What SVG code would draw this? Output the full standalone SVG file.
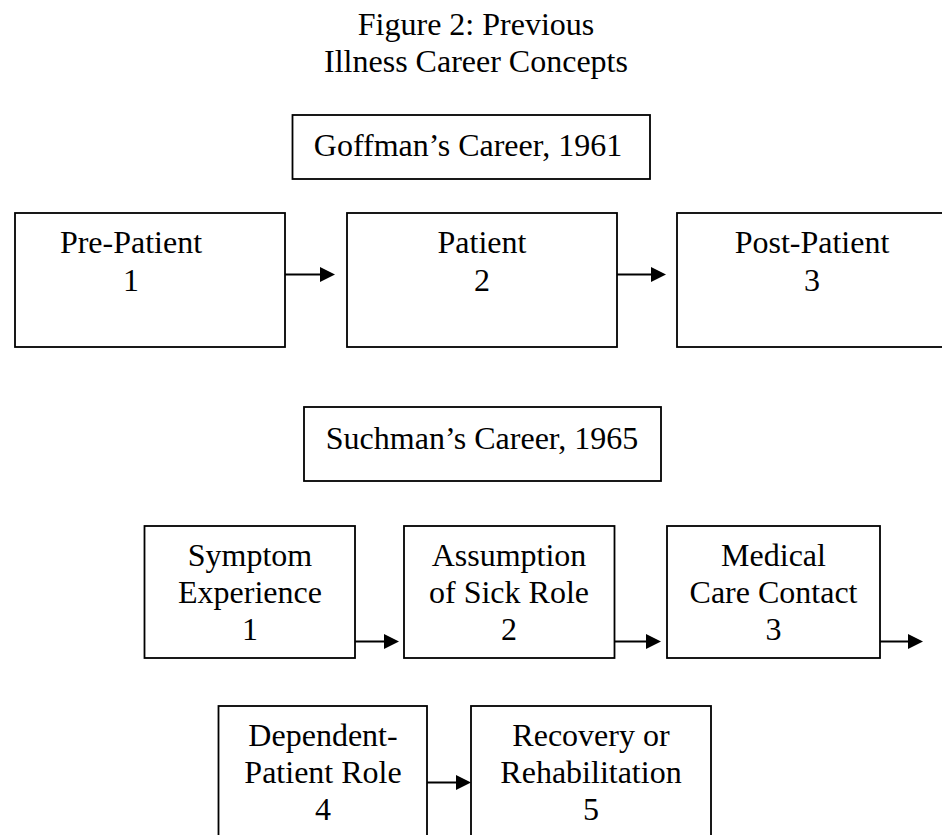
<svg xmlns="http://www.w3.org/2000/svg" width="942" height="835" viewBox="0 0 942 835">
<style>
text{font-family:"Liberation Serif","Times New Roman",serif;font-size:32px;fill:#000;text-anchor:middle}
.box{fill:#fff;stroke:#000;stroke-width:1.8}
.conn{stroke:#000;stroke-width:2;fill:none}
</style>
<defs>
<marker id="ah" markerUnits="userSpaceOnUse" markerWidth="15" markerHeight="15" refX="7" refY="7.5" orient="auto" viewBox="0 0 15 15">
<path d="M0,0 L15,7.5 L0,15 z" fill="#000"/>
</marker>
</defs>
<rect width="942" height="835" fill="#fff"/>
<g id="title">
<text x="476" y="35">Figure 2: Previous</text>
<text x="476" y="72">Illness Career Concepts</text>
</g>
<g id="goffman">
<rect class="box" x="292.5" y="115" width="357.5" height="64"/>
<text x="468" y="156">Goffman’s Career, 1961</text>
</g>
<g id="pre-patient">
<rect class="box" x="15" y="213" width="270" height="134"/>
<text x="131" y="253">Pre-Patient</text>
<text x="131" y="290.5">1</text>
</g>
<g id="patient">
<rect class="box" x="347" y="213" width="270" height="134"/>
<text x="482" y="253">Patient</text>
<text x="482" y="290.5">2</text>
</g>
<g id="post-patient">
<rect class="box" x="677" y="213" width="270" height="134"/>
<text x="812" y="253">Post-Patient</text>
<text x="812" y="290.5">3</text>
</g>
<g id="suchman">
<rect class="box" x="304" y="407" width="357" height="74"/>
<text x="482" y="449">Suchman’s Career, 1965</text>
</g>
<g id="symptom">
<rect class="box" x="144.5" y="526" width="210.5" height="132"/>
<text x="250" y="566">Symptom</text>
<text x="250" y="603">Experience</text>
<text x="250" y="640">1</text>
</g>
<g id="assumption">
<rect class="box" x="404" y="526" width="210.5" height="132"/>
<text x="509" y="566">Assumption</text>
<text x="509" y="603">of Sick Role</text>
<text x="509" y="640">2</text>
</g>
<g id="medical">
<rect class="box" x="667" y="526" width="213" height="132"/>
<text x="773.5" y="566">Medical</text>
<text x="773.5" y="603">Care Contact</text>
<text x="773.5" y="640">3</text>
</g>
<g id="dependent">
<rect class="box" x="218.5" y="706" width="208.5" height="150"/>
<text x="323" y="746">Dependent-</text>
<text x="323" y="783">Patient Role</text>
<text x="323" y="820">4</text>
</g>
<g id="recovery">
<rect class="box" x="471" y="706" width="240" height="150"/>
<text x="591" y="746">Recovery or</text>
<text x="591" y="783">Rehabilitation</text>
<text x="591" y="820">5</text>
</g>
<g id="connectors">
<line class="conn" x1="285" y1="274.5" x2="327" y2="274.5" marker-end="url(#ah)"/>
<line class="conn" x1="617" y1="274.5" x2="658" y2="274.5" marker-end="url(#ah)"/>
<line class="conn" x1="355" y1="641.5" x2="391" y2="641.5" marker-end="url(#ah)"/>
<line class="conn" x1="614.5" y1="641.5" x2="653" y2="641.5" marker-end="url(#ah)"/>
<line class="conn" x1="880" y1="641.5" x2="915" y2="641.5" marker-end="url(#ah)"/>
<line class="conn" x1="427" y1="782.5" x2="463" y2="782.5" marker-end="url(#ah)"/>
</g>
</svg>
